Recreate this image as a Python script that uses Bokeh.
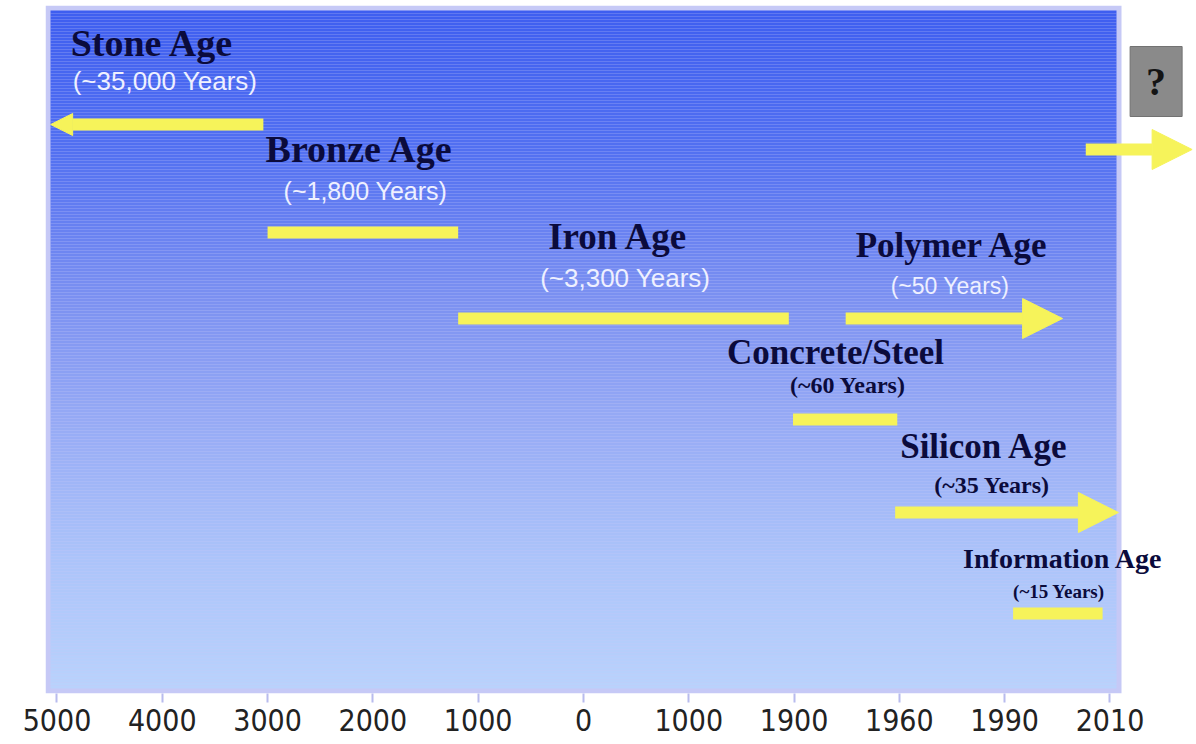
from bokeh.plotting import figure
from bokeh.models import Range1d, ColumnDataSource, Arrow, NormalHead, FixedTicker
from bokeh.core.properties import value
from bokeh.embed import file_html
from bokeh.resources import INLINE

# ---------------- data ----------------
tick_labels = ["5000", "4000", "3000", "2000", "1000", "0", "1000", "1900", "1960", "1990", "2010"]
ages = ["Stone Age", "Bronze Age", "Iron Age", "Polymer Age", "Concrete/Steel", "Silicon Age", "Information Age"]
durations = ["(~35,000 Years)", "(~1,800 Years)", "(~3,300 Years)", "(~50 Years)",
             "(~60 Years)", "(~35 Years)", "(~15 Years)"]
# positions along the (non-linear) timeline axis, in tick units
bar_from = [1.96, 2.00, 3.81, 7.49, 6.99, 7.96, 9.08]
bar_to = [-0.06, 3.81, 6.95, 9.55, 7.98, 10.08, 9.93]
lane = [569, 461, 375, 375, 274, 181, 80]
ongoing = [True, False, False, True, False, True, False]
future_label = "?"
future_from = 9.77
future_to = 10.78
future_lane = 544

# ---------------- styles ----------------
YELLOW = "#f6f35a"
NAVY = "#0b0b3c"
PX_PER_X = 105.3
X0 = -0.109
W, H = 1196, 744
FRAME_W = 1196 - 45
X1 = X0 + FRAME_W / PX_PER_X

title_dx = [20, -2, 90, 10, -66, 5, -50]
title_dy = [-82, -84, -82, -73, -67, -66, -55]
title_size = ["38px", "38px", "37px", "35px", "35px", "35px", "28px"]
sub_dx = [22, 16, 82, 45, -3, 39, 0]
sub_dy = [-44, -42, -41, -33, -35, -28, -22]
sub_size = ["26px", "25px", "26px", "23px", "24px", "24px", "19px"]
sub_font = ["Liberation Sans"] * 4 + ["Liberation Serif"] * 3
sub_color = ["#eef0ff"] * 4 + [NAVY] * 3
sub_style = ["normal"] * 4 + ["bold"] * 3
head_size = [22, 0, 0, 40, 0, 40, 0]

p = figure(width=W, height=H, x_range=Range1d(X0, X1), y_range=Range1d(0, 688),
           output_backend="svg", toolbar_location=None,
           min_border_left=45, min_border_right=0, min_border_top=5, min_border_bottom=51)
p.background_fill_color = "white"
p.border_fill_color = "white"
p.outline_line_color = None
p.xgrid.visible = False
p.ygrid.visible = False
p.yaxis.visible = False

# lavender border + gradient background
p.quad(left=[X0], right=[X0 + 1076 / PX_PER_X], bottom=[0], top=[688],
       fill_color="#c6c9f6", line_color=None)
stops = [(10, (62, 94, 240)), (150, (82, 112, 241)), (300, (124, 145, 241)),
         (420, (150, 170, 245)), (560, (172, 196, 250)), (688, (185, 210, 252))]


def color_at(py):
    for (a, ca), (b, cb) in zip(stops[:-1], stops[1:]):
        if a <= py <= b:
            t = (py - a) / (b - a)
            return "#%02x%02x%02x" % tuple(int(round(ca[k] + (cb[k] - ca[k]) * t)) for k in range(3))
    return "#%02x%02x%02x" % stops[-1][1]


gl, gr, gb, gt, gc = [], [], [], [], []
gx0 = X0 + 5 / PX_PER_X
gx1 = X0 + 1071 / PX_PER_X
py = 10
while py < 688:
    gl.append(gx0)
    gr.append(gx1)
    gt.append(693 - py)
    gb.append(693 - min(py + 3, 688))
    gc.append(color_at(py + 1.5))
    py += 3
p.quad(left=gl, right=gr, bottom=gb, top=gt, fill_color=gc, line_color=None)

# bars (finished ages)
flat = [i for i in range(len(ages)) if not ongoing[i]]
p.hbar(y=[lane[i] for i in flat], left=[bar_from[i] for i in flat], right=[bar_to[i] for i in flat],
       height=12, fill_color=YELLOW, line_color=None)

# arrows (ongoing ages)
for i in range(len(ages)):
    if ongoing[i]:
        p.add_layout(Arrow(end=NormalHead(size=head_size[i], fill_color=YELLOW, line_color=YELLOW, line_width=1),
                           x_start=bar_from[i], y_start=lane[i], x_end=bar_to[i], y_end=lane[i],
                           line_color=YELLOW, line_width=12))
p.add_layout(Arrow(end=NormalHead(size=40, fill_color=YELLOW, line_color=YELLOW, line_width=1),
                   x_start=future_from, y_start=future_lane, x_end=future_to, y_end=future_lane,
                   line_color=YELLOW, line_width=12))

# labels
anchor = [min(a, b) for a, b in zip(bar_from, bar_to)]
title_src = ColumnDataSource(dict(x=anchor, y=lane, text=ages, dx=title_dx, dy=title_dy, size=title_size))
p.text(x="x", y="y", text="text", x_offset="dx", y_offset="dy", text_font_size="size",
       text_font=value("Liberation Serif"), text_font_style="bold", text_color=NAVY,
       text_align="left", text_baseline="middle", source=title_src)
sub_src = ColumnDataSource(dict(x=anchor, y=lane, text=durations, dx=sub_dx, dy=sub_dy, size=sub_size,
                                font=sub_font, color=sub_color, style=sub_style))
p.text(x="x", y="y", text="text", x_offset="dx", y_offset="dy", text_font_size="size",
       text_font="font", text_font_style="style", text_color="color",
       text_align="left", text_baseline="middle", source=sub_src)

# question box
qx = future_to - 36 / PX_PER_X
qy = future_lane + 68
p.rect(x=[qx], y=[qy], width=52, height=70, width_units="screen", height_units="screen",
       fill_color="#8a8a8a", line_color="#727272")
p.text(x=[qx], y=[qy], text=[future_label], text_font=value("Liberation Serif"), text_font_style="bold",
       text_font_size="40px", text_color="#141414", text_align="center", text_baseline="middle")

# axis
p.xaxis.ticker = FixedTicker(ticks=list(range(len(tick_labels))))
p.xaxis.major_label_overrides = {i: lab for i, lab in enumerate(tick_labels)}
p.xaxis.axis_line_color = None
p.xaxis.major_tick_line_color = "#b8bbee"
p.xaxis.major_tick_line_width = 2
p.xaxis.major_tick_out = 9
p.xaxis.major_tick_in = 0
p.xaxis.minor_tick_line_color = None
p.xaxis.major_label_text_font = "'DejaVu Sans Condensed', 'Roboto', sans-serif"
p.xaxis.major_label_text_font_size = "30px"
p.xaxis.major_label_text_color = "#222222"
p.xaxis.major_label_standoff = 6

open("out.html", "w").write(file_html(p, INLINE))
